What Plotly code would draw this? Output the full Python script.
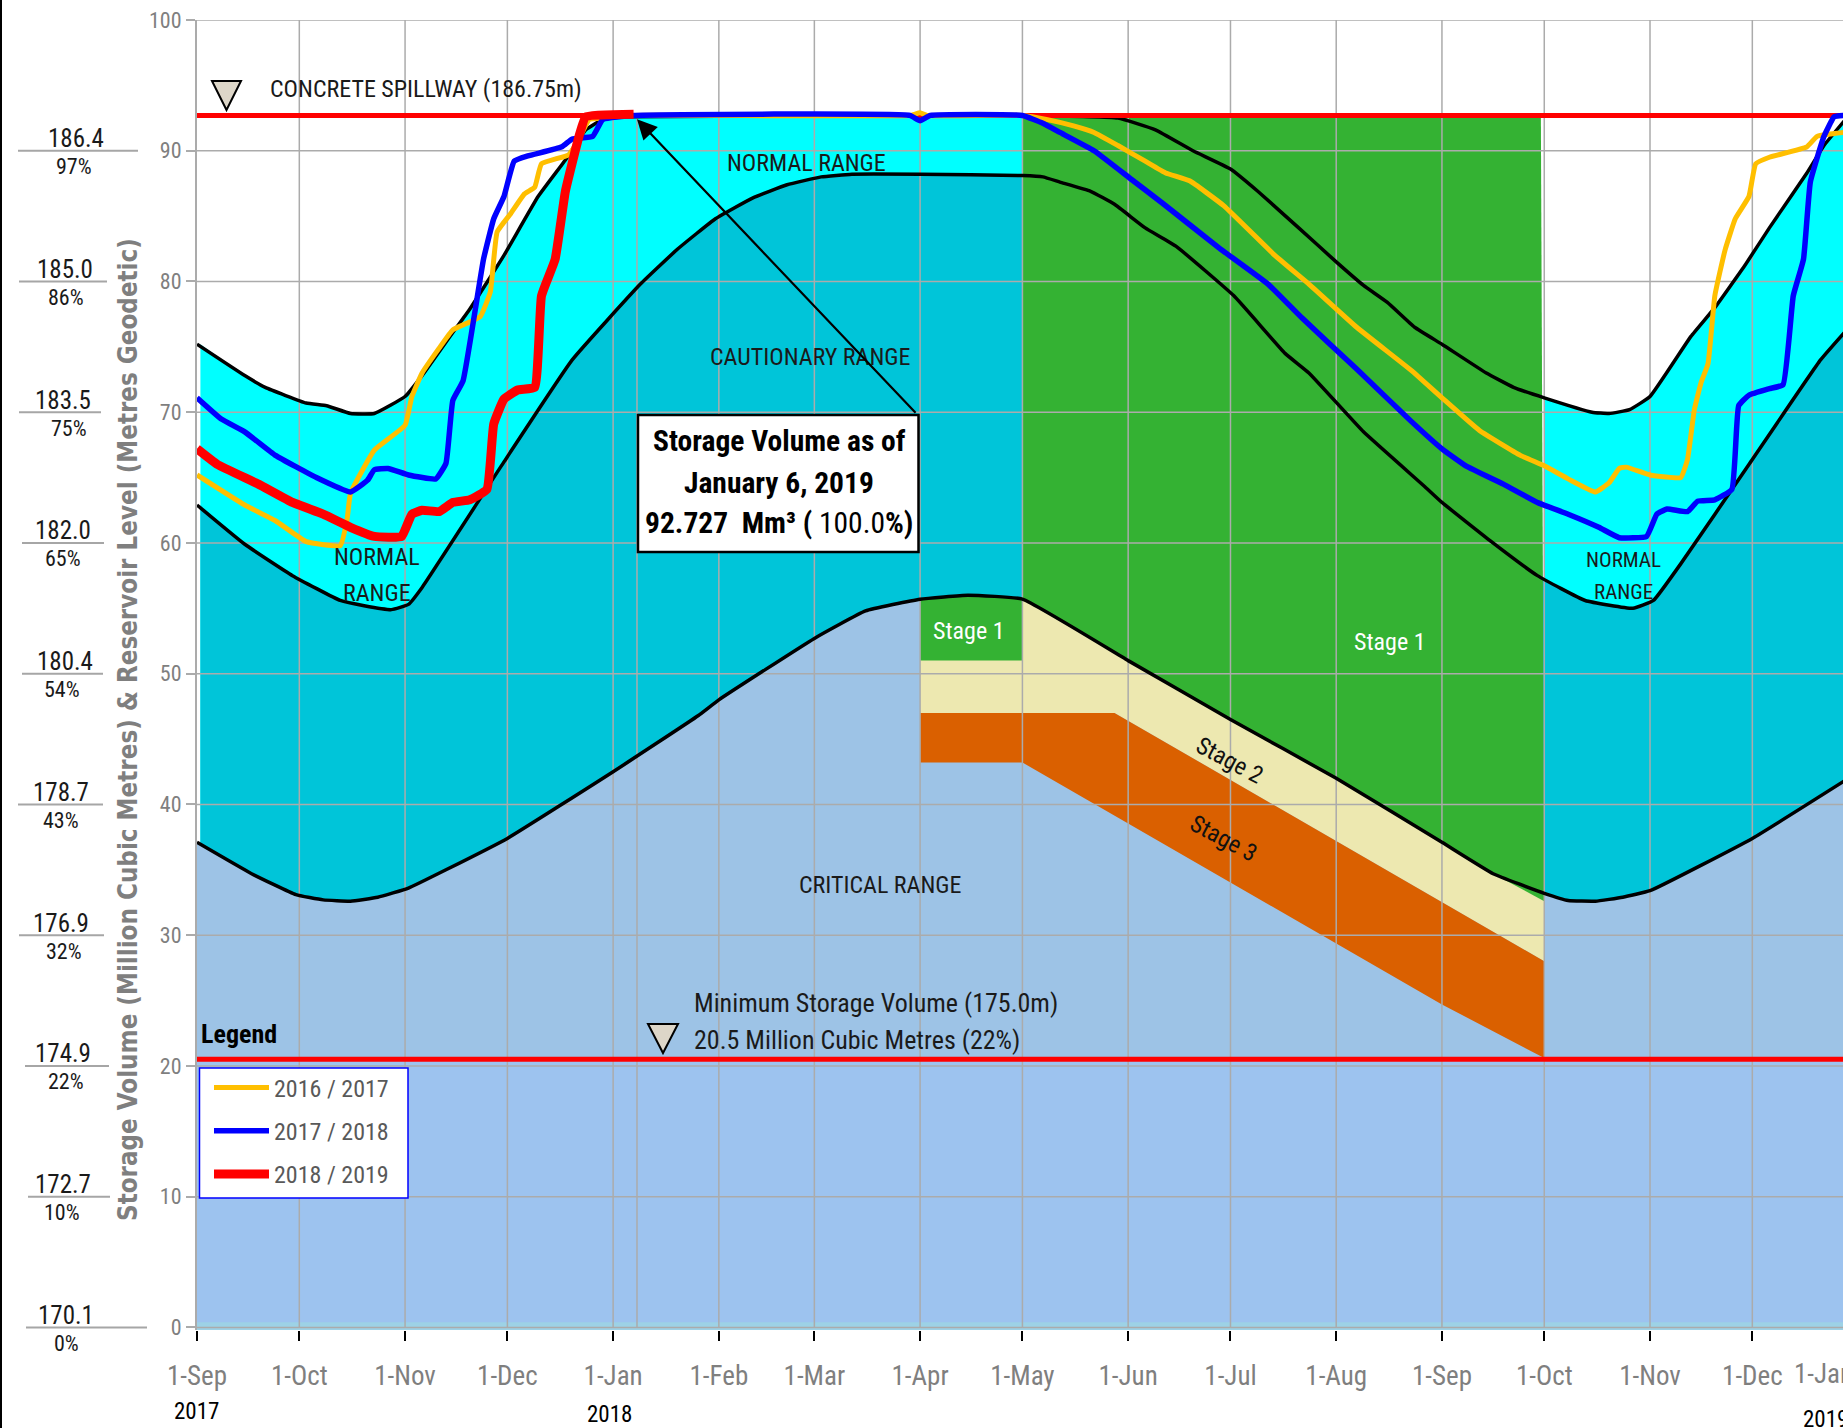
import plotly.graph_objects as go

# ---------- data ----------
upper_dates = ["2017-09-01","2017-09-15","2017-09-21","2017-10-03","2017-10-09","2017-10-16","2017-10-23","2017-11-01","2017-11-06","2017-11-15","2017-11-20","2017-11-30","2017-12-10","2017-12-18","2017-12-24","2017-12-29","2018-01-05","2018-05-01",
"2018-05-29","2018-06-09","2018-06-20","2018-07-01","2018-07-09","2018-07-21","2018-08-01","2018-08-09","2018-08-16","2018-08-24","2018-09-01","2018-09-14","2018-09-22","2018-10-01","2018-10-15","2018-10-20","2018-10-26","2018-11-01","2018-11-13","2018-11-20","2018-11-29","2018-12-06","2018-12-17","2018-12-22","2018-12-28"]
upper_vals = [75.2,72.8,71.9,70.7,70.5,69.9,69.9,71.2,72.8,76.1,77.9,82.0,86.5,89.3,91.6,92.4,92.6,92.7,
92.5,91.6,90.0,88.6,86.9,84.1,81.5,79.7,78.4,76.5,75.2,73.0,71.9,71.1,70.0,69.9,70.2,71.2,75.8,78.0,81.3,84.1,88.3,90.4,92.3]

lower_dates = ["2017-09-01","2017-09-15","2017-09-29","2017-10-13","2017-10-20","2017-10-28","2017-11-02","2017-11-06","2017-11-30","2017-12-20","2018-01-09","2018-01-20","2018-01-31","2018-02-11","2018-02-21","2018-03-03","2018-03-12","2018-04-01","2018-05-01",
"2018-05-07","2018-05-12","2018-05-21","2018-05-28","2018-06-06","2018-06-15","2018-07-02","2018-07-17","2018-07-24","2018-08-09","2018-08-27","2018-09-01","2018-09-15","2018-09-29","2018-10-13","2018-10-27","2018-11-02","2018-11-10","2018-11-30","2018-12-21","2018-12-28"]
lower_vals = [62.9,59.9,57.5,55.6,55.2,54.9,55.3,56.6,66.2,74.0,79.8,82.5,84.8,86.4,87.4,88.0,88.2,88.2,88.1,
88.0,87.6,86.9,85.9,84.1,82.7,78.9,74.5,73.0,68.5,64.3,63.1,60.2,57.5,55.6,55.0,55.6,58.4,66.0,74.0,76.1]

critical_dates = ["2017-09-01","2017-09-17","2017-09-30","2017-10-08","2017-10-16","2017-10-24","2017-11-02","2017-11-13","2017-12-01","2018-01-01","2018-01-26","2018-02-01","2018-03-01","2018-03-16","2018-04-01","2018-04-15","2018-05-01","2018-06-01","2018-07-01","2018-08-01","2018-09-01","2018-09-16","2018-10-01","2018-10-08","2018-10-16","2018-10-24","2018-11-01","2018-12-01","2018-12-28"]
critical_vals = [37.1,34.7,33.1,32.7,32.6,32.9,33.6,35.0,37.4,42.5,46.8,48.0,52.7,54.8,55.7,56.0,55.7,51.0,46.5,42.0,37.1,34.7,33.2,32.65,32.6,32.9,33.4,37.4,41.8]

stage2_dates = ["2018-04-01","2018-05-28","2018-10-01"]
stage2_vals = [47.0,47.0,28.0]
stage3_dates = ["2018-04-01","2018-05-01","2018-09-01","2018-10-01"]
stage3_vals = [43.2,43.2,24.7,20.6]

s1617_dates = ["2017-09-01","2017-09-15","2017-09-24","2017-10-03","2017-10-13","2017-10-15","2017-10-16","2017-10-23","2017-11-01","2017-11-03","2017-11-06","2017-11-11","2017-11-15","2017-11-23","2017-11-26","2017-11-28","2017-12-02","2017-12-06","2017-12-09","2017-12-11","2017-12-19","2017-12-22","2017-12-25","2017-12-29","2018-01-07","2018-03-29","2018-04-01","2018-04-03","2018-05-01",
"2018-05-08","2018-05-16","2018-05-22","2018-05-29","2018-06-06","2018-06-12","2018-06-19","2018-06-29","2018-07-14","2018-07-24","2018-08-07","2018-08-23","2018-09-01","2018-09-12","2018-09-24","2018-10-01","2018-10-08","2018-10-16","2018-10-20","2018-10-23","2018-10-25","2018-11-01","2018-11-10","2018-11-12","2018-11-14","2018-11-16","2018-11-18","2018-11-20","2018-11-23","2018-11-26","2018-11-30","2018-12-02","2018-12-06","2018-12-17","2018-12-20","2018-12-28"]
s1617_vals = [65.2,62.9,61.7,60.1,59.8,61.8,63.8,67.1,69.0,71.2,73.0,74.9,76.3,77.3,79.2,83.8,85.2,86.7,87.2,89.0,89.7,90.9,92.4,92.5,92.7,92.7,92.9,92.7,92.7,
92.4,91.9,91.4,90.4,89.2,88.3,87.7,85.8,82.0,79.8,76.5,73.2,71.1,68.6,66.7,65.9,64.9,63.9,64.6,65.7,65.8,65.2,65.0,66.4,70.2,72.3,73.7,78.9,82.4,84.8,86.5,89.0,89.5,90.3,91.1,91.4]

s1718_dates = ["2017-09-01","2017-09-08","2017-09-15","2017-09-24","2017-10-06","2017-10-16","2017-10-21","2017-10-23","2017-10-27","2017-11-02","2017-11-10","2017-11-13","2017-11-15","2017-11-18","2017-11-24","2017-11-27","2017-11-30","2017-12-03","2017-12-07","2017-12-17","2017-12-20","2017-12-26","2017-12-29","2018-01-07","2018-03-29","2018-04-01","2018-04-04","2018-05-01",
"2018-05-07","2018-05-12","2018-05-22","2018-06-02","2018-06-11","2018-06-28","2018-07-12","2018-07-22","2018-08-07","2018-08-23","2018-09-01","2018-09-08","2018-09-19","2018-09-29","2018-10-08","2018-10-17","2018-10-23","2018-10-31","2018-11-03","2018-11-06","2018-11-12","2018-11-15","2018-11-20","2018-11-25","2018-11-27","2018-11-30","2018-12-06","2018-12-10","2018-12-13","2018-12-16","2018-12-18","2018-12-22","2018-12-25","2018-12-28"]
s1718_vals = [71.1,69.5,68.5,66.7,65.0,63.9,64.8,65.6,65.7,65.2,64.9,66.1,70.9,72.4,81.7,84.8,86.5,89.2,89.6,90.3,90.9,91.1,92.4,92.7,92.7,92.3,92.7,92.7,
92.1,91.4,90.0,87.8,86.0,82.5,79.8,77.2,73.3,69.3,67.2,65.9,64.5,63.1,62.2,61.2,60.4,60.5,62.2,62.6,62.4,63.2,63.3,64.1,70.5,71.3,71.8,72.1,78.9,81.7,87.6,91.1,92.6,92.7]

s1819_dates = ["2017-09-01","2017-09-07","2017-09-19","2017-09-29","2017-10-08","2017-10-16","2017-10-23","2017-10-31","2017-11-03","2017-11-06","2017-11-11","2017-11-15","2017-11-20","2017-11-25","2017-11-27","2017-11-30","2017-12-04","2017-12-09","2017-12-11","2017-12-15","2017-12-18","2017-12-22","2017-12-24","2018-01-07"]
s1819_vals = [67.2,66.0,64.5,63.1,62.2,61.2,60.5,60.5,62.2,62.5,62.4,63.1,63.3,64.1,69.1,71.0,71.7,71.9,78.9,81.7,86.9,91.1,92.6,92.8]

month_ticks = ["2017-09-01","2017-10-01","2017-11-01","2017-12-01","2018-01-01","2018-02-01","2018-03-01","2018-04-01","2018-05-01","2018-06-01","2018-07-01","2018-08-01","2018-09-01","2018-10-01","2018-11-01","2018-12-01"]
month_labels = ["1-Sep","1-Oct","1-Nov","1-Dec","1-Jan","1-Feb","1-Mar","1-Apr","1-May","1-Jun","1-Jul","1-Aug","1-Sep","1-Oct","1-Nov","1-Dec"]
volume_ticks = [0,10,20,30,40,50,60,70,80,90,100]
level_labels = ["170.1","172.7","174.9","176.9","178.7","180.4","182.0","183.5","185.0","186.4"]
percent_labels = ["0%","10%","22%","32%","43%","54%","65%","75%","86%","97%"]
spillway_volume = 92.7
minimum_volume = 20.5
as_of_date = "2018-01-08"

# ---------- layout helpers ----------
W, H, L, T, B = 1843, 1428, 197, 20, 98
X_START, X_END = "2017-09-01", "2018-12-27 14:00"
px = lambda x: (x - L) / (W - L)
py = lambda y: (H - B - y) / (H - T - B)
NARROW = "Roboto Condensed"
GRID = "#ABABAB"
SMOOTH = dict(shape="spline", smoothing=0.35)

fig = go.Figure()

def area(x, y, color, fill="tozeroy", smooth=True):
    ln = dict(width=0, **(SMOOTH if smooth else {}))
    fig.add_trace(go.Scatter(x=x, y=y, mode="lines", line=ln, fill=fill,
                             fillcolor=color, showlegend=False, hoverinfo="skip"))

def line(x, y, color, width, smooth=False, **kw):
    ln = dict(color=color, width=width, **(SMOOTH if smooth else {}))
    fig.add_trace(go.Scatter(x=x, y=y, mode="lines", line=ln,
                             hoverinfo="skip", showlegend=kw.pop("showlegend", False), **kw))

may = upper_dates.index("2018-05-01")
oct_ = upper_dates.index("2018-10-01")
LEFT_FILL = "2017-09-02"
area([LEFT_FILL] + upper_dates[1:may + 1], upper_vals[:may + 1], "#00FFFF")
area(upper_dates[oct_:], upper_vals[oct_:], "#00FFFF")
area([LEFT_FILL] + lower_dates[1:], lower_vals, "#00C5D9")
area(["2018-05-01", "2018-09-30", "2018-10-01", "2018-10-01", "2018-05-01"],
     [spillway_volume, spillway_volume, 33.0, 0, 0], "#34B233", fill="toself", smooth=False)
area(critical_dates, critical_vals, "#9DC3E6")
area([X_START, X_END], [minimum_volume, minimum_volume], "#9DC3EF", smooth=False)
area([X_START, X_END, X_END, X_START], [-0.2, -0.2, 0.4, 0.4], "#9DD2E6", fill="toself", smooth=False)

# stages (bounded by the critical curve)
crit_s = critical_dates.index("2018-04-01")
crit_e = critical_dates.index("2018-10-01")
c_x, c_y = critical_dates[crit_s:crit_e + 1], critical_vals[crit_s:crit_e + 1]
area(c_x + stage2_dates[::-1], c_y + stage2_vals[::-1], "#EDE8B0", fill="toself", smooth=False)
area(stage2_dates + stage3_dates[::-1], stage2_vals + stage3_vals[::-1], "#DA6000", fill="toself", smooth=False)
area(c_x[:3] + ["2018-05-01", "2018-04-01"], c_y[:3] + [51.0, 51.0], "#34B233", fill="toself", smooth=False)
area(["2018-09-16", "2018-10-01", "2018-10-01"], [34.7, 33.2, 32.6], "#34B233", fill="toself", smooth=False)

# grid drawn above the fills
gx, gy = [], []
for v in volume_ticks:
    gx += [X_START, X_END, None]; gy += [v, v, None]
for d in month_ticks[1:] + [as_of_date]:
    top = spillway_volume if d == as_of_date else 100
    gx += [d, d, None]; gy += [0, top, None]
line(gx, gy, GRID, 1.5)

line(upper_dates, upper_vals, "black", 3.5, smooth=True)
line(lower_dates, lower_vals, "black", 3.5, smooth=True)
line(critical_dates, critical_vals, "black", 3.5, smooth=True)
line([X_START, X_END], [spillway_volume] * 2, "#FF0000", 5)
line([X_START, X_END], [minimum_volume] * 2, "#FF0000", 5)

line(s1617_dates, s1617_vals, "#FFBF00", 5, smooth=True, name="2016 / 2017", showlegend=True, legendgroup="a")
line(s1718_dates, s1718_vals, "#0000FF", 5.5, smooth=True, name="2017 / 2018", showlegend=True, legendgroup="b")
line(s1819_dates, s1819_vals, "#FF0000", 9, smooth=True, name="2018 / 2019", showlegend=True, legendgroup="c")

# ---------- shapes ----------
shapes = []
def rect(x0, y0, x1, y1, fill, border, bw, xref="paper", yref="paper"):
    shapes.append(dict(type="rect", xref=xref, yref=yref, x0=x0, x1=x1, y0=y0, y1=y1,
                       fillcolor=fill, line=dict(color=border, width=bw), layer="above"))

rect(px(0), py(0), px(2), py(H), "black", "black", 0)
rect(px(199.5), py(1068), px(408), py(1198), "white", "#0000FF", 1.5)
rect(px(638), py(415), px(918.5), py(552), "white", "black", 2.5)

for (x0, x1, y0, y1) in [(212, 241, 81, 110), (648, 678, 1024, 1053)]:
    xm = (x0 + x1) / 2
    shapes.append(dict(type="path", xref="paper", yref="paper",
                       path=f"M {px(x0)} {py(y0)} L {px(x1)} {py(y0)} L {px(xm)} {py(y1)} Z",
                       fillcolor="#DDD6C8", line=dict(color="black", width=2), layer="above"))

rule_spans = [(26, 147), (28, 110), (25, 109), (19, 104), (18, 103), (22, 103), (22, 104), (19, 101), (19, 107), (18, 138)]
level_x = [66, 63, 63, 61, 61, 65, 63, 63, 65, 76]
pct_x = [66, 62, 66, 64, 61, 62, 63, 69, 66, 74]

ann = []
def text(x, y, s, size=24, color="#1a1a1a", family=NARROW, anchor="center", angle=0):
    ann.append(dict(xref="paper", yref="paper", x=px(x), y=py(y), text=s, showarrow=False,
                    xanchor=anchor, yanchor="middle", textangle=angle,
                    font=dict(family=family, size=size, color=color)))

for i, (lv, pc) in enumerate(zip(level_labels, percent_labels)):
    v = volume_ticks[i]
    x0, x1 = rule_spans[i]
    shapes.append(dict(type="line", xref="paper", yref="y", x0=px(x0), x1=px(x1), y0=v, y1=v,
                       line=dict(color="#A6A6A6", width=2)))
    ann.append(dict(xref="paper", yref="y", x=px(level_x[i]), y=v, yshift=12, text=lv, showarrow=False,
                    xanchor="center", yanchor="middle", font=dict(family=NARROW, size=25, color="#1a1a1a")))
    ann.append(dict(xref="paper", yref="y", x=px(pct_x[i]), y=v, yshift=-16, text=pc, showarrow=False,
                    xanchor="center", yanchor="middle", font=dict(family=NARROW, size=22, color="#1a1a1a")))

text(128, 730, "<b>Storage Volume (Million Cubic Metres) &amp; Reservoir Level (Metres Geodetic)</b>", 25.7, "#7F7F7F", "DejaVu Sans Condensed", angle=-90)
text(268, 89, "CONCRETE SPILLWAY (186.75m)", 24, anchor="left")
text(806, 163, "NORMAL RANGE", 24)
text(810, 357, "CAUTIONARY RANGE", 24)
text(880, 885, "CRITICAL RANGE", 24)
text(377, 557, "NORMAL", 24)
text(377, 593, "RANGE", 24)
text(1623, 560, "NORMAL", 21)
text(1623, 592, "RANGE", 21)
text(968, 631, "Stage 1", 24, "white")
text(1389, 642, "Stage 1", 24, "white")
text(1229, 760, "Stage 2", 24, "#111111", angle=28)
text(1223, 838, "Stage 3", 24, "#111111", angle=28)
text(692, 1003, "Minimum Storage Volume (175.0m)", 26, anchor="left")
text(692, 1040, "20.5 Million Cubic Metres (22%)", 26, anchor="left")
text(199, 1034, "<b>Legend</b>", 26, "black", anchor="left")
text(779, 441, "<b>Storage Volume as of</b>", 29.5, "black")
text(779, 483, "<b>January 6, 2019</b>", 29.5, "black")
text(779, 523, "<b>92.727  Mm³ (</b> 100.0<b>%)</b>", 29.5, "black")
text(196, 1411, "2017", 23, "black")
text(609, 1414, "2018", 23, "black")
text(1801, 1419, "2019", 23, "black", anchor="left")
text(1792, 1374, "1-Jan", 27, "#7F7F7F", anchor="left")

ann.append(dict(xref="x", yref="y", x=as_of_date, y=92.4, text="", showarrow=True, arrowhead=2,
                arrowsize=1.8, arrowwidth=2.2, arrowcolor="black", ax=280, ay=295, standoff=0))

fig.update_layout(
    width=W, height=H, autosize=False, paper_bgcolor="white", plot_bgcolor="white",
    margin=dict(l=L, r=0, t=T, b=B, pad=0),
    shapes=shapes, annotations=ann, hovermode=False,
    legend=dict(x=px(209), y=py(1065.5), xanchor="left", yanchor="top", bgcolor="rgba(0,0,0,0)",
                borderwidth=0, itemwidth=55, tracegroupgap=9, traceorder="grouped",
                font=dict(family=NARROW, size=24, color="#595959"), itemclick=False, itemdoubleclick=False),
    xaxis=dict(type="date", range=[X_START, X_END], tickmode="array", tickvals=month_ticks, ticktext=month_labels,
               showgrid=False, zeroline=False, showline=False, ticks="outside", ticklen=10, tickwidth=1.5,
               tickcolor="black", tickangle=0, ticklabelstandoff=12,
               tickfont=dict(family=NARROW, size=27, color="#7F7F7F")),
    yaxis=dict(range=[-0.2, 100], tickmode="array", tickvals=volume_ticks, showgrid=False, zeroline=False,
               showline=True, linecolor=GRID, linewidth=2, ticks="outside", ticklen=9, tickwidth=1.5,
               tickcolor=GRID, tickfont=dict(family=NARROW, size=22, color="#7F7F7F")),
)

fig.write_html("out.html", config=dict(displayModeBar=False),
               post_script="document.body.style.margin='0';document.body.style.overflow='hidden';")
